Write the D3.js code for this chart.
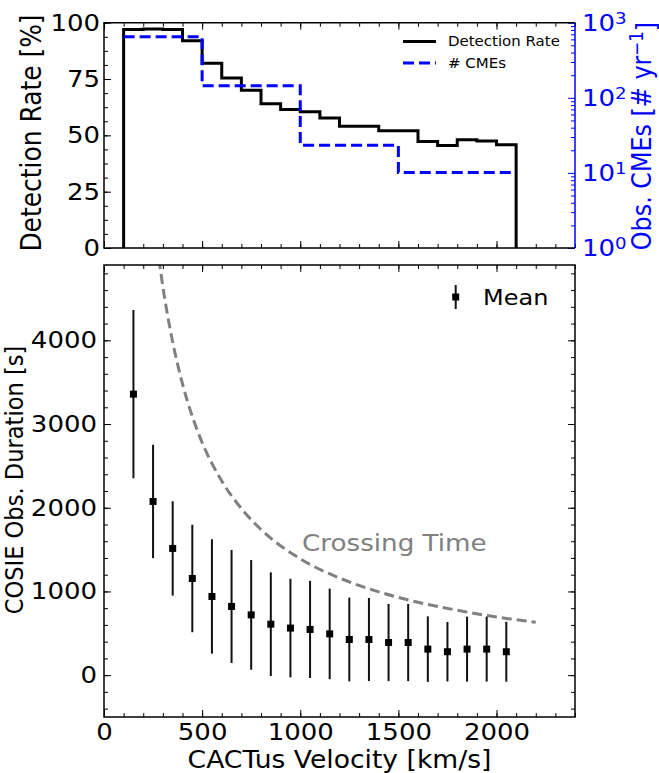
<!DOCTYPE html>
<html>
<head>
<meta charset="utf-8">
<script src="https://cdn.jsdelivr.net/npm/d3@7"></script>
<style>
  body { margin: 0; background: #fff; }
  svg { display: block; font-family: "DejaVu Sans", sans-serif; }
</style>
</head>
<body>
<svg id="chart" width="659" height="773"></svg>
<script>
// ---- data ----
const rateEdges = [100, 200, 300, 400, 500, 600, 700, 800, 900, 1000, 1100,
                   1200, 1300, 1400, 1500, 1600, 1700, 1800, 1900, 2000, 2100];
const detectionRate = [97, 97.2, 97, 92, 82, 75.5, 70, 64, 61.5, 60.5,
                       57.7, 54, 54, 52, 52, 47.3, 45.5, 48, 47.5, 45.8];

const cmeEdges = [100, 500, 1000, 1500, 2100];
const cmeCounts = [650, 145, 23.3, 10.1];

const velocity = [150, 250, 350, 450, 550, 650, 750, 850, 950, 1050,
                  1150, 1250, 1350, 1450, 1550, 1650, 1750, 1850, 1950, 2050];
const meanDuration = [3357, 2075, 1514, 1155, 940, 821, 720, 609, 562, 546,
                      493, 426, 426, 390, 390, 311, 280, 311, 311, 280];
const stdDuration = [1005, 677, 564, 642, 683, 675, 655, 619, 589, 580,
                     541, 500, 496, 461, 461, 391, 355, 388, 388, 358];

const crossV = [280, 300, 350, 400, 450, 500, 600, 700, 800, 1000,
                1200, 1400, 1600, 1800, 2000, 2200];
const crossT = [4970, 4640, 3980, 3480, 3090, 2780, 2320, 1990, 1740, 1390,
                1160, 995, 870, 775, 695, 633];

const rateTicks = [0, 25, 50, 75, 100];
const durationTicks = [0, 1000, 2000, 3000, 4000];
const velocityTicks = [0, 500, 1000, 1500, 2000];

// ---- layout ----
const svg = d3.select('#chart');
const L = 104, R = 575;
const topY0 = 22.7, topY1 = 248;
const botY0 = 265, botY1 = 717;
const fs = 26;      // tick label size
const SY = 0.9;     // the figure's text is squeezed vertically

const x = d3.scaleLinear().domain([0, 2400]).range([L, R]);
const yRate = d3.scaleLinear().domain([0, 100]).range([topY1, topY0]);
const yCme = d3.scaleLog().domain([1, 1000]).range([topY1, topY0]);
const yDur = d3.scaleLinear().domain([-500, 4900]).range([botY1, botY0]);

const xMinor = d3.range(0, 2401, 100);

// text placed at (tx, ty), optionally rotated, squeezed like the original
function addText(tx, ty, rot, size) {
  return svg.append('text')
    .attr('transform', `translate(${tx},${ty}) scale(1,${SY})` + (rot ? ` rotate(${rot})` : ''))
    .attr('font-size', size);
}

function styleAxis(g, color) {
  g.select('.domain').remove();
  g.selectAll('line').attr('stroke', color || '#000').attr('stroke-width', 1);
  g.selectAll('text').attr('fill', color || '#000').attr('font-size', fs)
    .attr('font-family', '"DejaVu Sans", sans-serif')
    .attr('transform', `scale(1,${SY})`)
    .attr('y', function () { return (+d3.select(this).attr('y') || 0) / SY; });
}

function frameTicks(y0, y1, yScale, majors, minors, labelsX, padLeft) {
  svg.append('g').attr('transform', `translate(0,${y1})`)
    .call(d3.axisBottom(x).tickValues(xMinor).tickSize(-4).tickFormat(''))
    .call(styleAxis);
  svg.append('g').attr('transform', `translate(0,${y1})`)
    .call(d3.axisBottom(x).tickValues(velocityTicks).tickSize(-7).tickPadding(6)
      .tickFormat(labelsX ? d3.format('d') : ''))
    .call(styleAxis);
  svg.append('g').attr('transform', `translate(0,${y0})`)
    .call(d3.axisTop(x).tickValues(xMinor).tickSize(-4).tickFormat(''))
    .call(styleAxis);
  svg.append('g').attr('transform', `translate(0,${y0})`)
    .call(d3.axisTop(x).tickValues(velocityTicks).tickSize(-7).tickFormat(''))
    .call(styleAxis);
  svg.append('g').attr('transform', `translate(${L},0)`)
    .call(d3.axisLeft(yScale).tickValues(minors).tickSize(-4).tickFormat(''))
    .call(styleAxis);
  svg.append('g').attr('transform', `translate(${L},0)`)
    .call(d3.axisLeft(yScale).tickValues(majors).tickSize(-7).tickPadding(padLeft)
      .tickFormat(d3.format('d')))
    .call(styleAxis);
}

// ---- top panel ----
frameTicks(topY0, topY1, yRate, rateTicks, d3.range(0, 100.1, 6.25), false, 4);

// right log axis, blue
const logMinor = [];
[1, 10, 100].forEach(d => { for (let k = 2; k <= 9; k++) logMinor.push(d * k); });
svg.append('g').attr('transform', `translate(${R},0)`)
  .call(d3.axisRight(yCme).tickValues(logMinor).tickSize(-4).tickFormat(''))
  .call(g => styleAxis(g, 'blue'));
svg.append('g').attr('transform', `translate(${R},0)`)
  .call(d3.axisRight(yCme).tickValues([1, 10, 100, 1000]).tickSize(-7).tickFormat(''))
  .call(g => styleAxis(g, 'blue'));
[0, 1, 2, 3].forEach(p => {
  const t = addText(R + 7, yCme(Math.pow(10, p)), 0, fs)
    .attr('dy', '0.36em').attr('fill', 'blue');
  t.append('tspan').text('10');
  t.append('tspan').attr('dy', '-0.45em').attr('font-size', fs * 0.7).text(p);
});

// histograms
const ratePts = [[rateEdges[0], 0]];
detectionRate.forEach((v, i) => { ratePts.push([rateEdges[i], v], [rateEdges[i + 1], v]); });
ratePts.push([rateEdges[rateEdges.length - 1], 0]);
svg.append('path')
  .attr('d', d3.line().x(d => x(d[0])).y(d => yRate(d[1]))(ratePts))
  .attr('fill', 'none').attr('stroke', '#000').attr('stroke-width', 3);

const cmePts = [];
cmeCounts.forEach((v, i) => { cmePts.push([cmeEdges[i], v], [cmeEdges[i + 1], v]); });
svg.append('path')
  .attr('d', d3.line().x(d => x(d[0])).y(d => yCme(d[1]))(cmePts))
  .attr('fill', 'none').attr('stroke', 'blue').attr('stroke-width', 3)
  .attr('stroke-dasharray', '11,5');

// spines top panel (right one blue)
svg.append('path').attr('d', `M${R},${topY0}H${L}V${topY1}H${R}`)
  .attr('fill', 'none').attr('stroke', '#000').attr('stroke-width', 1.5);
svg.append('line').attr('x1', R).attr('x2', R).attr('y1', topY0).attr('y2', topY1)
  .attr('stroke', 'blue').attr('stroke-width', 1.5);

// legend top
const legTop = [
  { label: 'Detection Rate', color: '#000', dash: null, y: 41.5 },
  { label: '# CMEs', color: 'blue', dash: '11,5', y: 63 }
];
legTop.forEach(d => {
  svg.append('line').attr('x1', 403).attr('x2', 436).attr('y1', d.y).attr('y2', d.y)
    .attr('stroke', d.color).attr('stroke-width', 3).attr('stroke-dasharray', d.dash);
  addText(448, d.y, 0, 15).attr('dy', '0.36em').attr('fill', '#000').text(d.label);
});

// axis labels top
addText(41, 133, -90, 27.7).attr('text-anchor', 'middle').text('Detection Rate [%]');
const rl = addText(651, 136, -90, 26.5).attr('text-anchor', 'middle').attr('fill', 'blue');
rl.append('tspan').text('Obs. CMEs [# yr');
rl.append('tspan').attr('dy', '-0.45em').attr('font-size', 26.5 * 0.7).text('\u22121');
rl.append('tspan').attr('dy', '0.45em').text(']');

// ---- bottom panel ----
frameTicks(botY0, botY1, yDur, durationTicks, d3.range(-400, 4900, 200), true, 7);
svg.append('g').attr('transform', `translate(${R},0)`)
  .call(d3.axisRight(yDur).tickValues(d3.range(-400, 4900, 200)).tickSize(-4).tickFormat(''))
  .call(styleAxis);
svg.append('g').attr('transform', `translate(${R},0)`)
  .call(d3.axisRight(yDur).tickValues(durationTicks).tickSize(-7).tickFormat(''))
  .call(styleAxis);

svg.append('clipPath').attr('id', 'clipBot').append('rect')
  .attr('x', L).attr('y', botY0).attr('width', R - L).attr('height', botY1 - botY0);

svg.append('path')
  .datum(crossV.map((v, i) => [v, crossT[i]]))
  .attr('clip-path', 'url(#clipBot)')
  .attr('d', d3.line().x(d => x(d[0])).y(d => yDur(d[1])).curve(d3.curveMonotoneX))
  .attr('fill', 'none').attr('stroke', '#808080').attr('stroke-width', 3)
  .attr('stroke-dasharray', '10,5');

addText(302, 550.5, 0, 26.2).attr('fill', '#808080').text('Crossing Time');

const pts = svg.append('g');
velocity.forEach((v, i) => {
  pts.append('line').attr('x1', x(v)).attr('x2', x(v))
    .attr('y1', yDur(meanDuration[i] - stdDuration[i]))
    .attr('y2', yDur(meanDuration[i] + stdDuration[i]))
    .attr('stroke', '#111').attr('stroke-width', 2);
  pts.append('rect').attr('x', x(v) - 3.5).attr('y', yDur(meanDuration[i]) - 3.5)
    .attr('width', 7).attr('height', 7).attr('fill', '#000');
});

svg.append('rect').attr('x', L).attr('y', botY0).attr('width', R - L).attr('height', botY1 - botY0)
  .attr('fill', 'none').attr('stroke', '#000').attr('stroke-width', 1.5);

// legend bottom
svg.append('line').attr('x1', 455.7).attr('x2', 455.7).attr('y1', 285).attr('y2', 309)
  .attr('stroke', '#111').attr('stroke-width', 2);
svg.append('rect').attr('x', 452.2).attr('y', 293.5).attr('width', 7).attr('height', 7).attr('fill', '#000');
addText(483, 297, 0, 24).attr('dy', '0.36em').text('Mean');

// axis labels bottom
addText((L + R) / 2, 768, 0, 26.6).attr('text-anchor', 'middle').text('CACTus Velocity [km/s]');
addText(23, 480, -90, 25.1).attr('text-anchor', 'middle').text('COSIE Obs. Duration [s]');
</script>
</body>
</html>
